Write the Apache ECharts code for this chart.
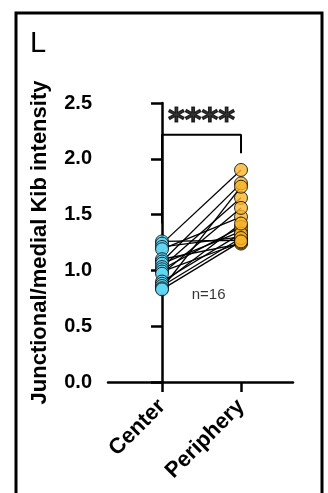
<!DOCTYPE html>
<html>
<head>
<meta charset="utf-8">
<script src="https://cdn.jsdelivr.net/npm/echarts@6/dist/echarts.min.js"></script>
<style>
  html, body { margin: 0; padding: 0; background: #fff; }
  #chart { width: 328px; height: 493px; }
</style>
</head>
<body>
<div id="chart"></div>
<script>
// Catégories et valeurs appariées (une paire par échantillon)
const categories = ['Center', 'Periphery'];
const centerValues = [1.26, 1.24, 1.21, 1.19, 1.10, 1.08, 1.06, 1.03, 1.01, 0.99, 0.97, 0.90, 0.88, 0.86, 0.84, 0.83];
const peripheryValues = [1.27, 1.90, 1.30, 1.48, 1.24, 1.78, 1.35, 1.65, 1.39, 1.25, 1.56, 1.33, 1.42, 1.29, 1.75, 1.26];
const yTicks = [0, 0.5, 1.0, 1.5, 2.0, 2.5];

const font = 'Liberation Sans, Arial, Helvetica, sans-serif';
const chart = echarts.init(document.getElementById('chart'));

// Une ligne noire par paire
const pairSeries = centerValues.map((c, i) => ({
    type: 'line',
    data: [[0, c], [1, peripheryValues[i]]],
    symbol: 'none',
    lineStyle: { color: '#000', width: 1.3 },
    z: 2,
    silent: true
}));

const option = {
    animation: false,
    textStyle: { fontFamily: font },
    title: {
        text: 'L',
        left: 25,
        top: 24,
        textStyle: { fontSize: 29, fontWeight: 'normal', color: '#000', fontFamily: font }
    },
    graphic: [{
        type: 'rect',
        shape: { x: 16, y: 13, width: 306, height: 500 },
        style: { fill: 'none', stroke: '#000', lineWidth: 3 }
    }],
    grid: { left: 108, right: 35, top: 103, bottom: 111 },
    xAxis: {
        type: 'value',
        min: -0.684,
        max: 1.658,
        splitLine: { show: false },
        axisLine: { show: true, lineStyle: { color: '#000', width: 2.5 } },
        axisTick: {
            show: true, length: 10, inside: false,
            customValues: [0, 1],
            lineStyle: { color: '#000', width: 2.5 }
        },
        axisLabel: {
            customValues: [0, 1],
            formatter: v => categories[Math.round(v)] || '',
            rotate: 45,
            margin: 21,
            color: '#000',
            fontWeight: 'bold',
            fontSize: 22,
            fontFamily: font
        }
    },
    yAxis: {
        type: 'value',
        min: 0,
        max: 2.5,
        interval: 0.5,
        name: 'Junctional/medial Kib intensity',
        nameLocation: 'middle',
        nameGap: 57,
        nameTextStyle: { fontSize: 22, fontWeight: 'bold', color: '#000', fontFamily: font },
        splitLine: { show: false },
        axisLine: { show: true, lineStyle: { color: '#000', width: 2.5 } },
        axisTick: { show: true, length: 11, lineStyle: { color: '#000', width: 2.5 } },
        axisLabel: {
            formatter: v => v.toFixed(1),
            color: '#000',
            fontWeight: 'bold',
            fontSize: 20,
            margin: 16,
            fontFamily: font
        }
    },
    series: [
        ...pairSeries,
        {
            type: 'scatter',
            data: centerValues.map(v => [0, v]),
            symbolSize: 13,
            itemStyle: { color: '#62d7f5', borderColor: '#000', borderWidth: 1 },
            z: 3
        },
        {
            type: 'scatter',
            data: peripheryValues.map(v => [1, v]),
            symbolSize: 13,
            itemStyle: { color: '#f9b42b', borderColor: '#000', borderWidth: 1 },
            z: 3
        },
        {
            // crochet de significativité
            type: 'line',
            data: [[0, 1.42], [0, 2.215], [1, 2.215], [1, 2.05]],
            symbol: 'none',
            lineStyle: { color: '#000', width: 2 },
            z: 2
        },
        {
            // annotations texte
            type: 'scatter',
            symbolSize: 0,
            data: [
                {
                    value: [0.5, 2.33],
                    label: {
                        formatter: '****', fontSize: 32, fontWeight: 'bold', fontFamily: 'DejaVu Sans',
                        textBorderColor: '#000', textBorderWidth: 1.2
                    }
                },
                { value: [0.59, 0.78], label: { formatter: 'n=16', fontSize: 15, fontWeight: 'normal' } }
            ],
            label: { show: true, position: 'inside', color: '#000', fontFamily: font },
            z: 4
        }
    ]
};

chart.setOption(option);
</script>
</body>
</html>
